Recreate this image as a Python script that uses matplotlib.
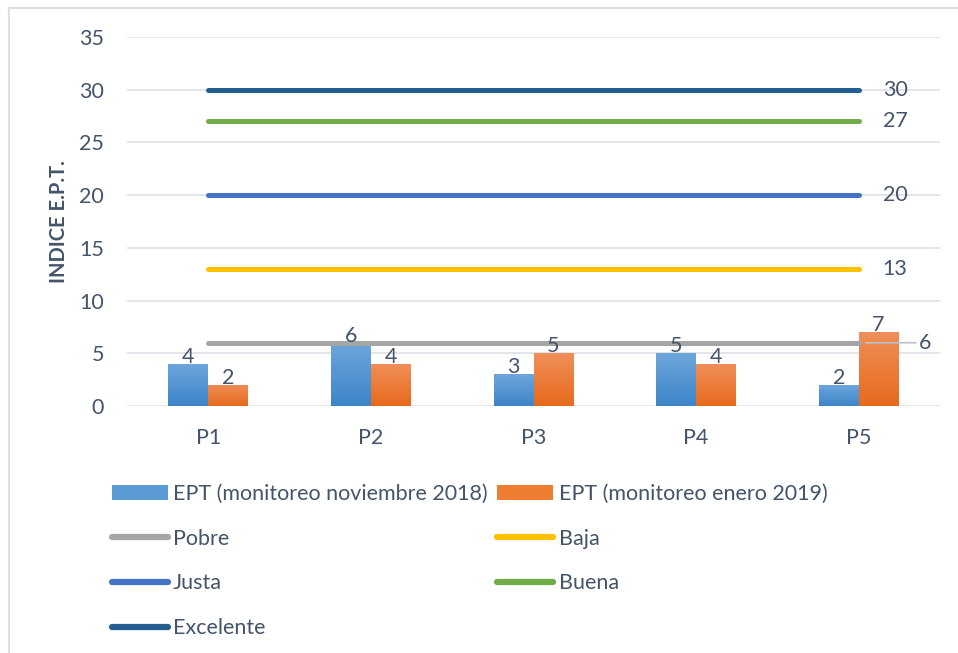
import matplotlib.pyplot as plt
import numpy as np
from matplotlib.colors import LinearSegmentedColormap
from matplotlib.lines import Line2D
from matplotlib.patches import Patch, Rectangle

# datos
puntos = ['P1', 'P2', 'P3', 'P4', 'P5']
ept_nov_2018 = [4, 6, 3, 5, 2]
ept_ene_2019 = [2, 4, 5, 4, 7]
niveles = ['Pobre', 'Baja', 'Justa', 'Buena', 'Excelente']
umbrales = [6, 13, 20, 27, 30]
colores_niveles = ['#a5a5a5', '#ffc000', '#4472c4', '#70ad47', '#255e91']

TXT = '#44546a'
FS = 15.5
plt.rcParams['font.family'] = ['Lato', 'DejaVu Sans']

fig = plt.figure(figsize=(9.58, 6.53), dpi=100)
ax = fig.add_axes([127 / 958, 1 - 406 / 653, 813 / 958, 369 / 653])

x = np.arange(len(puntos))
w = 0.245
azul = LinearSegmentedColormap.from_list('az', ['#3d85c8', '#6ea6dc'])
naranja = LinearSegmentedColormap.from_list('na', ['#e66a1c', '#f08f58'])

b1 = ax.bar(x - w / 2, ept_nov_2018, w, color='#5b9bd5', zorder=2)
b2 = ax.bar(x + w / 2, ept_ene_2019, w, color='#ed7d31', zorder=2)

# degradado en las barras
grad = np.linspace(0, 1, 100).reshape(-1, 1)
for bars, cm in [(b1, azul), (b2, naranja)]:
    for b in bars:
        x0, y0 = b.get_x(), b.get_y()
        im = ax.imshow(grad, cmap=cm, aspect='auto', origin='lower',
                       extent=[x0, x0 + b.get_width(), y0, y0 + b.get_height()],
                       zorder=2.1)
        im.set_clip_path(b)
    for b in bars:
        ax.annotate(f'{int(b.get_height())}', (b.get_x() + b.get_width() / 2, b.get_height()),
                    xytext=(0, -2), textcoords='offset points', ha='center', va='bottom',
                    fontsize=FS, color=TXT, zorder=5)

# lineas de niveles
for nom, val, c in zip(niveles, umbrales, colores_niveles):
    ax.plot([x[0], x[-1]], [val, val], color=c, lw=3.6, solid_capstyle='round', zorder=3)
    if nom == 'Pobre':
        ax.annotate(str(val), (x[-1], val), xytext=(60, 0), textcoords='offset pixels',
                    ha='left', va='center', fontsize=FS, color=TXT,
                    arrowprops=dict(arrowstyle='-', color='#b8c2ce', lw=1.2,
                                    shrinkA=0, shrinkB=5))
    else:
        ax.annotate(str(val), (x[-1], val), xytext=(24, 0), textcoords='offset pixels',
                    ha='left', va='center', fontsize=FS, color=TXT)

ax.set_xlim(-0.5, 4.5)
ax.set_ylim(0, 35)
ax.set_yticks(range(0, 36, 5))
ax.set_xticks(x)
ax.set_xticklabels(puntos)
ax.tick_params(length=0, labelsize=FS, labelcolor=TXT)
ax.tick_params(axis='x', pad=16)
ax.tick_params(axis='y', pad=16.5)
ax.grid(axis='y', color='#dfe3e8', lw=1.3, zorder=0)
for s in ax.spines.values():
    s.set_visible(False)
ax.set_axisbelow(True)
ax.set_ylabel('INDICE E.P.T.', fontsize=14.5, fontweight='bold', color=TXT, labelpad=7)

# leyenda (orden por columnas)
h = {n: Line2D([], [], color=c, lw=4.5, solid_capstyle='round')
     for n, c in zip(niveles, colores_niveles)}
h_nov = Patch(facecolor='#5b9bd5', label='EPT (monitoreo noviembre 2018)')
h_ene = Patch(facecolor='#ed7d31', label='EPT (monitoreo enero 2019)')
handles = [h_nov, h['Pobre'], h['Justa'], h['Excelente'], h_ene, h['Baja'], h['Buena']]
labels = ['EPT (monitoreo noviembre 2018)', 'Pobre', 'Justa', 'Excelente',
          'EPT (monitoreo enero 2019)', 'Baja', 'Buena']
leg = fig.legend(handles, labels, ncol=2, loc='upper left',
                 bbox_to_anchor=(101 / 958, 1 - 473 / 653), frameon=False,
                 fontsize=FS, labelcolor=TXT, handlelength=2.6, handleheight=0.7,
                 handletextpad=0.25, columnspacing=0.45, labelspacing=1.15, borderpad=0)

# marco exterior
fig.patches.append(Rectangle((9 / 958, -0.1), 1.2, 1 - 8 / 653 + 0.1, transform=fig.transFigure,
                             fill=False, edgecolor='#dcdfe4', lw=1.5))

fig.savefig('out.png', dpi=100)
